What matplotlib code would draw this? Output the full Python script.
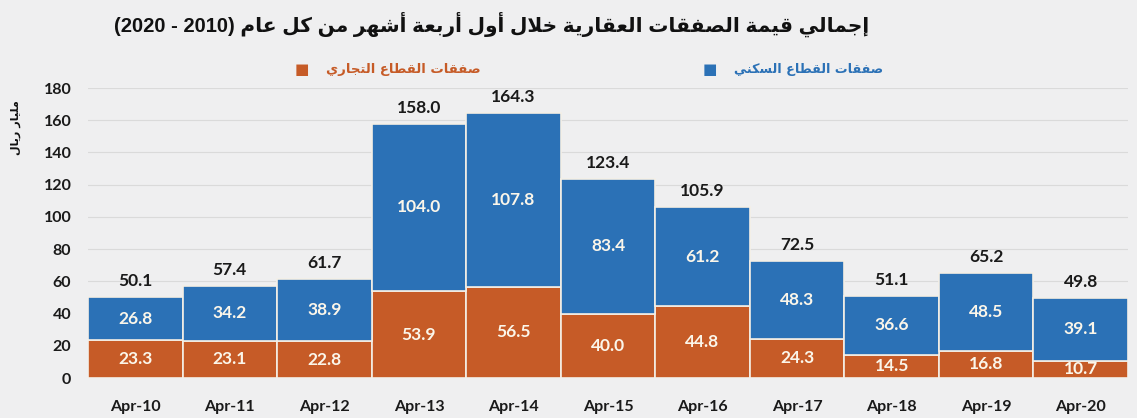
import numpy as np
import matplotlib
matplotlib.use("Agg")
import matplotlib.pyplot as plt

# ---- data ----
periods = ["Apr-10", "Apr-11", "Apr-12", "Apr-13", "Apr-14", "Apr-15",
           "Apr-16", "Apr-17", "Apr-18", "Apr-19", "Apr-20"]
commercial = [23.3, 23.1, 22.8, 53.9, 56.5, 40.0, 44.8, 24.3, 14.5, 16.8, 10.7]
residential = [26.8, 34.2, 38.9, 104.0, 107.8, 83.4, 61.2, 48.3, 36.6, 48.5, 39.1]
totals = [50.1, 57.4, 61.7, 158.0, 164.3, 123.4, 105.9, 72.5, 51.1, 65.2, 49.8]
y_ticks = [0, 20, 40, 60, 80, 100, 120, 140, 160, 180]

title_ar = "إجمالي قيمة الصفقات العقارية خلال أول أربعة أشهر من كل عام"
# years as they appear visually in the right-to-left title
title_years = "(2020 - 2010)"
res_label = "صفقات القطاع السكني"
com_label = "صفقات القطاع التجاري"
unit_label = "مليار ريال"

# ---- minimal arabic shaping (matplotlib has no complex text layout) ----
# isolated, final, initial, medial
FORMS = {
    "ا": (0xFE8D, 0xFE8E), "أ": (0xFE83, 0xFE84), "إ": (0xFE87, 0xFE88),
    "ب": (0xFE8F, 0xFE90, 0xFE91, 0xFE92), "ة": (0xFE93, 0xFE94),
    "ت": (0xFE95, 0xFE96, 0xFE97, 0xFE98), "ج": (0xFE9D, 0xFE9E, 0xFE9F, 0xFEA0),
    "ح": (0xFEA1, 0xFEA2, 0xFEA3, 0xFEA4), "خ": (0xFEA5, 0xFEA6, 0xFEA7, 0xFEA8),
    "د": (0xFEA9, 0xFEAA), "ر": (0xFEAD, 0xFEAE),
    "س": (0xFEB1, 0xFEB2, 0xFEB3, 0xFEB4), "ش": (0xFEB5, 0xFEB6, 0xFEB7, 0xFEB8),
    "ص": (0xFEB9, 0xFEBA, 0xFEBB, 0xFEBC), "ط": (0xFEC1, 0xFEC2, 0xFEC3, 0xFEC4),
    "ع": (0xFEC9, 0xFECA, 0xFECB, 0xFECC), "ف": (0xFED1, 0xFED2, 0xFED3, 0xFED4),
    "ق": (0xFED5, 0xFED6, 0xFED7, 0xFED8), "ك": (0xFED9, 0xFEDA, 0xFEDB, 0xFEDC),
    "ل": (0xFEDD, 0xFEDE, 0xFEDF, 0xFEE0), "م": (0xFEE1, 0xFEE2, 0xFEE3, 0xFEE4),
    "ن": (0xFEE5, 0xFEE6, 0xFEE7, 0xFEE8), "ه": (0xFEE9, 0xFEEA, 0xFEEB, 0xFEEC),
    "و": (0xFEED, 0xFEEE), "ي": (0xFEF1, 0xFEF2, 0xFEF3, 0xFEF4),
}
LAM_ALEF = {"ا": (0xFEFB, 0xFEFC), "أ": (0xFEF7, 0xFEF8), "إ": (0xFEF9, 0xFEFA)}


def shape(text):
    out = []
    i = 0
    n = len(text)
    while i < n:
        c = text[i]
        if c not in FORMS:
            out.append(c)
            i += 1
            continue
        prev = text[i - 1] if i > 0 else ""
        joins_prev = prev in FORMS and len(FORMS[prev]) == 4
        nxt = text[i + 1] if i + 1 < n else ""
        if c == "ل" and nxt in LAM_ALEF:
            out.append(chr(LAM_ALEF[nxt][1 if joins_prev else 0]))
            i += 2
            continue
        f = FORMS[c]
        joins_next = len(f) == 4 and nxt in FORMS
        if joins_prev and joins_next:
            out.append(chr(f[3]))
        elif joins_next:
            out.append(chr(f[2]))
        elif joins_prev:
            out.append(chr(f[1]))
        else:
            out.append(chr(f[0]))
        i += 1
    return "".join(out)


def rtl(text):
    return shape(text)[::-1]


blue = "#2b71b6"
orange = "#c65b27"
bg = "#efeff0"

fig = plt.figure(figsize=(11.37, 4.18), dpi=100, facecolor=bg)
ax = fig.add_axes([88 / 1137, 1 - 378 / 418, (1128 - 88) / 1137, (378 - 88) / 418])
ax.set_facecolor(bg)

x = np.arange(len(periods))
ax.bar(x, commercial, width=1.0, color=orange, edgecolor="#f4efe6", linewidth=1.2, zorder=3)
ax.bar(x, residential, width=1.0, bottom=commercial, color=blue,
       edgecolor="#f4efe6", linewidth=1.2, zorder=3)

num_font = "Lato"
for xi, c, r, t in zip(x, commercial, residential, totals):
    ax.text(xi, c / 2, f"{c:.1f}", ha="center", va="center", color="#fbf6ea",
            fontsize=12.5, fontweight="bold", family=num_font, zorder=4)
    ax.text(xi, c + r / 2, f"{r:.1f}", ha="center", va="center", color="#fbf6ea",
            fontsize=12.5, fontweight="bold", family=num_font, zorder=4)
    ax.text(xi, c + r + 5, f"{t:.1f}", ha="center", va="bottom", color="#1a1a1a",
            fontsize=12.5, fontweight="bold", family=num_font, zorder=4)

ax.set_xlim(-0.5, len(periods) - 0.5)
ax.set_ylim(0, 180)
ax.set_yticks(y_ticks)
ax.set_xticks(x)
ax.set_xticklabels(periods)
ax.grid(axis="y", color="#dadada", linewidth=0.8, zorder=0)
for s in ax.spines.values():
    s.set_visible(False)
ax.tick_params(length=0, labelsize=11.5)
ax.tick_params(axis="x", pad=16)
ax.tick_params(axis="y", pad=12)
for lab in ax.get_xticklabels() + ax.get_yticklabels():
    lab.set_fontweight("bold")
    lab.set_family(num_font)
    lab.set_color("#1a1a1a")

ar_fonts = ["Liberation Sans", "DejaVu Sans"]
fig.text(492 / 1137, 1 - 24 / 418, title_years + " " + rtl(title_ar), ha="center",
         va="center", fontsize=14.5, fontweight="bold", family=ar_fonts, color="#111111")

# legend (square left of label)
fig.text(302 / 1137, 1 - 70 / 418, "■", color=orange, fontsize=11, ha="center",
         va="center", family="DejaVu Sans")
fig.text(326 / 1137, 1 - 70 / 418, rtl(com_label), color=orange, fontsize=9.5,
         fontweight="bold", ha="left", va="center", family="DejaVu Sans")
fig.text(710 / 1137, 1 - 70 / 418, "■", color=blue, fontsize=11, ha="center",
         va="center", family="DejaVu Sans")
fig.text(734 / 1137, 1 - 70 / 418, rtl(res_label), color=blue, fontsize=9.2,
         fontweight="bold", ha="left", va="center", family="DejaVu Sans")

fig.text(16 / 1137, 1 - 128 / 418, rtl(unit_label), rotation=90, ha="center",
         va="center", fontsize=8, fontweight="bold", family="DejaVu Sans", color="#111111")

fig.savefig("out.png", dpi=100, facecolor=bg)
